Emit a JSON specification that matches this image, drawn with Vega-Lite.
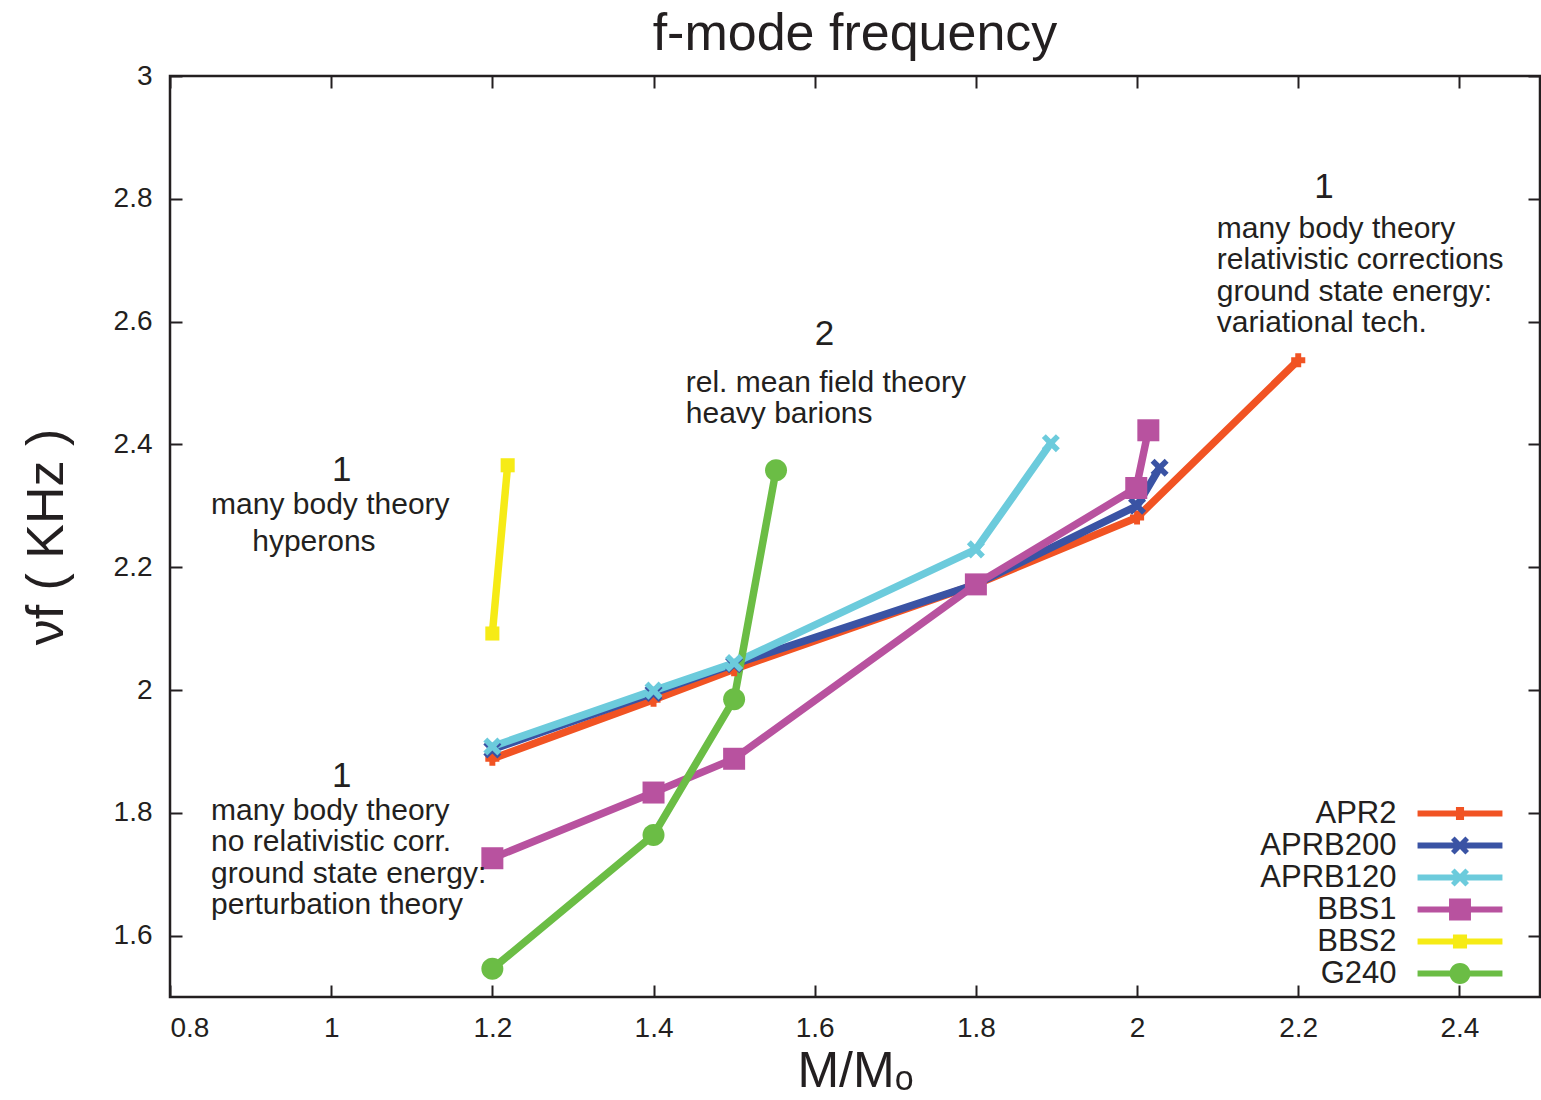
{
  "$schema": "https://vega.github.io/schema/vega-lite/v6.json",
  "autosize": "none",
  "width": 1370,
  "height": 921,
  "padding": {"left": 170, "top": 76, "right": 1, "bottom": 103},
  "background": "white",
  "config": {
    "font": "Liberation Sans",
    "view": {"stroke": "#231f20", "strokeWidth": 2.5},
    "axis": {"grid": false, "domain": false, "tickColor": "#231f20", "tickWidth": 2, "tickSize": -12, "labelColor": "#231f20", "titleColor": "#231f20", "labelFont": "Liberation Sans", "titleFont": "Liberation Sans", "titleFontWeight": "normal", "labelFontSize": 28}
  },
  "title": {"text": "f-mode frequency", "fontSize": 52, "fontWeight": "normal", "color": "#231f20", "baseline": "alphabetic", "offset": -40, "anchor": "middle", "font": "Liberation Sans"},
  "datasets": {
    "curves": [
      {"series": "APR2", "m": 1.2, "f": 1.888},
      {"series": "APR2", "m": 1.4, "f": 1.984},
      {"series": "APR2", "m": 1.5, "f": 2.034},
      {"series": "APR2", "m": 1.8, "f": 2.172},
      {"series": "APR2", "m": 2.0, "f": 2.281},
      {"series": "APR2", "m": 2.2, "f": 2.537},
      {"series": "APRB200", "m": 1.2, "f": 1.903},
      {"series": "APRB200", "m": 1.4, "f": 1.995},
      {"series": "APRB200", "m": 1.5, "f": 2.042},
      {"series": "APRB200", "m": 1.8, "f": 2.172},
      {"series": "APRB200", "m": 2.0, "f": 2.300},
      {"series": "APRB200", "m": 2.028, "f": 2.362},
      {"series": "APRB120", "m": 1.2, "f": 1.908},
      {"series": "APRB120", "m": 1.4, "f": 1.999},
      {"series": "APRB120", "m": 1.5, "f": 2.044},
      {"series": "APRB120", "m": 1.8, "f": 2.229},
      {"series": "APRB120", "m": 1.893, "f": 2.402},
      {"series": "BBS1", "m": 1.2, "f": 1.726},
      {"series": "BBS1", "m": 1.4, "f": 1.833},
      {"series": "BBS1", "m": 1.5, "f": 1.888},
      {"series": "BBS1", "m": 1.8, "f": 2.172},
      {"series": "BBS1", "m": 1.999, "f": 2.329},
      {"series": "BBS1", "m": 2.014, "f": 2.423},
      {"series": "BBS2", "m": 1.2, "f": 2.092},
      {"series": "BBS2", "m": 1.219, "f": 2.366},
      {"series": "G240", "m": 1.2, "f": 1.546},
      {"series": "G240", "m": 1.4, "f": 1.764},
      {"series": "G240", "m": 1.5, "f": 1.985},
      {"series": "G240", "m": 1.552, "f": 2.358}
    ],
    "numbers": [
      {"x": 1.013, "y": 2.359, "label": "1"},
      {"x": 1.013, "y": 1.860, "label": "1"},
      {"x": 1.612, "y": 2.580, "label": "2"},
      {"x": 2.232, "y": 2.820, "label": "1"}
    ],
    "notes": [
      {"x": 0.851, "y": 2.301, "label": "many body theory"},
      {"x": 0.902, "y": 2.241, "label": "hyperons"},
      {"x": 0.851, "y": 1.803, "label": "many body theory"},
      {"x": 0.851, "y": 1.752, "label": "no relativistic corr."},
      {"x": 0.851, "y": 1.701, "label": "ground state energy:"},
      {"x": 0.851, "y": 1.650, "label": "perturbation theory"},
      {"x": 1.440, "y": 2.500, "label": "rel. mean field theory"},
      {"x": 1.440, "y": 2.449, "label": "heavy barions"},
      {"x": 2.099, "y": 2.751, "label": "many body theory"},
      {"x": 2.099, "y": 2.700, "label": "relativistic corrections"},
      {"x": 2.099, "y": 2.649, "label": "ground state energy:"},
      {"x": 2.099, "y": 2.598, "label": "variational tech."}
    ]
  },
  "layer": [
    {
      "data": {"name": "curves"},
      "transform": [{"filter": "datum.m > 10"}],
      "mark": {"type": "point", "filled": true, "opacity": 1},
      "encoding": {
        "x": {"field": "m", "type": "quantitative", "scale": {"domain": [0.8, 2.5], "nice": false, "zero": false},
              "axis": {"orient": "bottom", "values": [0.8, 1, 1.2, 1.4, 1.6, 1.8, 2, 2.2, 2.4], "format": "~g", "labelPadding": 29, "title": "M/Mₒ", "titleFontSize": 50, "titlePadding": 4}},
        "y": {"field": "f", "type": "quantitative", "scale": {"domain": [1.5, 3.0], "nice": false, "zero": false},
              "axis": {"orient": "left", "values": [1.6, 1.8, 2, 2.2, 2.4, 2.6, 2.8, 3], "format": "~g", "labelPadding": 30, "title": "νf ( KHz )", "titleFontSize": 52, "titlePadding": 40}},
        "color": {"field": "series", "type": "nominal",
                  "scale": {"domain": ["APR2", "APRB200", "APRB120", "BBS1", "BBS2", "G240"], "range": ["#f15323", "#3a53a4", "#6ccbdc", "#b8529f", "#f6eb16", "#6bbd45"]},
                  "legend": {"orient": "none", "legendX": 1274.5, "legendY": 722, "title": null, "padding": 0, "rowPadding": 0, "symbolSize": 900, "symbolStrokeWidth": 0, "symbolOpacity": 1, "labelFontSize": 31, "labelAlign": "right", "labelOffset": -79, "labelColor": "#231f20", "labelFont": "Liberation Sans", "labelLimit": 300}},
        "shape": {"field": "series", "type": "nominal",
                  "scale": {"domain": ["APR2", "APRB200", "APRB120", "BBS1", "BBS2", "G240"], "range": [
                    "M-2.83,-0.2H2.83V0.2H-2.83Z M-0.27,-0.43H0.27V0.43H-0.27Z",
                    "M-2.83,-0.2H2.83V0.2H-2.83Z M-0.6,-0.36L-0.36,-0.6L0,-0.24L0.36,-0.6L0.6,-0.36L0.24,0L0.6,0.36L0.36,0.6L0,0.24L-0.36,0.6L-0.6,0.36L-0.24,0Z",
                    "M-2.83,-0.2H2.83V0.2H-2.83Z M-0.6,-0.36L-0.36,-0.6L0,-0.24L0.36,-0.6L0.6,-0.36L0.24,0L0.6,0.36L0.36,0.6L0,0.24L-0.36,0.6L-0.6,0.36L-0.24,0Z",
                    "M-2.83,-0.2H2.83V0.2H-2.83Z M-0.73,-0.73H0.73V0.73H-0.73Z",
                    "M-2.83,-0.2H2.83V0.2H-2.83Z M-0.47,-0.47H0.47V0.47H-0.47Z",
                    "M-2.83,-0.2H2.83V0.2H-2.83Z M-0.7,0A0.7,0.7 0 1,1 0.7,0A0.7,0.7 0 1,1 -0.7,0Z"]},
                  "legend": {"orient": "none", "legendX": 1274.5, "legendY": 722, "title": null, "padding": 0, "rowPadding": 0, "symbolSize": 900, "symbolStrokeWidth": 0, "symbolOpacity": 1, "labelFontSize": 31, "labelAlign": "right", "labelOffset": -79, "labelColor": "#231f20", "labelFont": "Liberation Sans", "labelLimit": 300}}
      }
    },
    {
      "data": {"name": "curves"},
      "mark": {"type": "line", "strokeWidth": 7.5, "clip": true},
      "encoding": {
        "x": {"field": "m", "type": "quantitative", "axis": {"orient": "top", "values": [0.8, 1, 1.2, 1.4, 1.6, 1.8, 2, 2.2, 2.4], "labels": false, "title": null}},
        "y": {"field": "f", "type": "quantitative", "axis": {"orient": "right", "values": [1.6, 1.8, 2, 2.2, 2.4, 2.6, 2.8, 3], "labels": false, "title": null}},
        "color": {"field": "series", "type": "nominal", "legend": null}
      }
    },
    {
      "data": {"name": "curves"},
      "transform": [{"filter": "datum.series === 'APR2'"}],
      "mark": {"type": "point", "filled": true, "opacity": 1, "size": 484, "clip": true, "shape": "M-0.27,-0.64H0.27V-0.27H0.64V0.27H0.27V0.64H-0.27V0.27H-0.64V-0.27H-0.27Z"},
      "encoding": {
        "x": {"field": "m", "type": "quantitative", "axis": null},
        "y": {"field": "f", "type": "quantitative", "axis": null},
        "color": {"field": "series", "type": "nominal", "legend": null}
      }
    },
    {
      "data": {"name": "curves"},
      "transform": [{"filter": "datum.series === 'APRB200' || datum.series === 'APRB120'"}],
      "mark": {"type": "point", "filled": true, "opacity": 1, "size": 484, "clip": true, "shape": "M-0.82,-0.46L-0.46,-0.82L0,-0.36L0.46,-0.82L0.82,-0.46L0.36,0L0.82,0.46L0.46,0.82L0,0.36L-0.46,0.82L-0.82,0.46L-0.36,0Z"},
      "encoding": {
        "x": {"field": "m", "type": "quantitative", "axis": null},
        "y": {"field": "f", "type": "quantitative", "axis": null},
        "color": {"field": "series", "type": "nominal", "legend": null}
      }
    },
    {
      "data": {"name": "curves"},
      "transform": [{"filter": "datum.series === 'BBS1'"}],
      "mark": {"type": "point", "filled": true, "opacity": 1, "size": 484, "clip": true, "shape": "M-1,-1H1V1H-1Z"},
      "encoding": {
        "x": {"field": "m", "type": "quantitative", "axis": null},
        "y": {"field": "f", "type": "quantitative", "axis": null},
        "color": {"field": "series", "type": "nominal", "legend": null}
      }
    },
    {
      "data": {"name": "curves"},
      "transform": [{"filter": "datum.series === 'BBS2'"}],
      "mark": {"type": "point", "filled": true, "opacity": 1, "size": 484, "clip": true, "shape": "M-0.64,-0.64H0.64V0.64H-0.64Z"},
      "encoding": {
        "x": {"field": "m", "type": "quantitative", "axis": null},
        "y": {"field": "f", "type": "quantitative", "axis": null},
        "color": {"field": "series", "type": "nominal", "legend": null}
      }
    },
    {
      "data": {"name": "curves"},
      "transform": [{"filter": "datum.series === 'G240'"}],
      "mark": {"type": "point", "filled": true, "opacity": 1, "size": 484, "clip": true, "shape": "M-1,0A1,1 0 1,1 1,0A1,1 0 1,1 -1,0Z"},
      "encoding": {
        "x": {"field": "m", "type": "quantitative", "axis": null},
        "y": {"field": "f", "type": "quantitative", "axis": null},
        "color": {"field": "series", "type": "nominal", "legend": null}
      }
    },
    {
      "data": {"name": "numbers"},
      "mark": {"type": "text", "fontSize": 35, "align": "center", "baseline": "middle", "color": "#231f20", "font": "Liberation Sans"},
      "encoding": {
        "x": {"field": "x", "type": "quantitative", "axis": null},
        "y": {"field": "y", "type": "quantitative", "axis": null},
        "text": {"field": "label"}
      }
    },
    {
      "data": {"name": "notes"},
      "mark": {"type": "text", "fontSize": 30, "align": "left", "baseline": "middle", "color": "#231f20", "font": "Liberation Sans"},
      "encoding": {
        "x": {"field": "x", "type": "quantitative", "axis": null},
        "y": {"field": "y", "type": "quantitative", "axis": null},
        "text": {"field": "label"}
      }
    }
  ],
  "resolve": {"axis": {"x": "independent", "y": "independent"}}
}
